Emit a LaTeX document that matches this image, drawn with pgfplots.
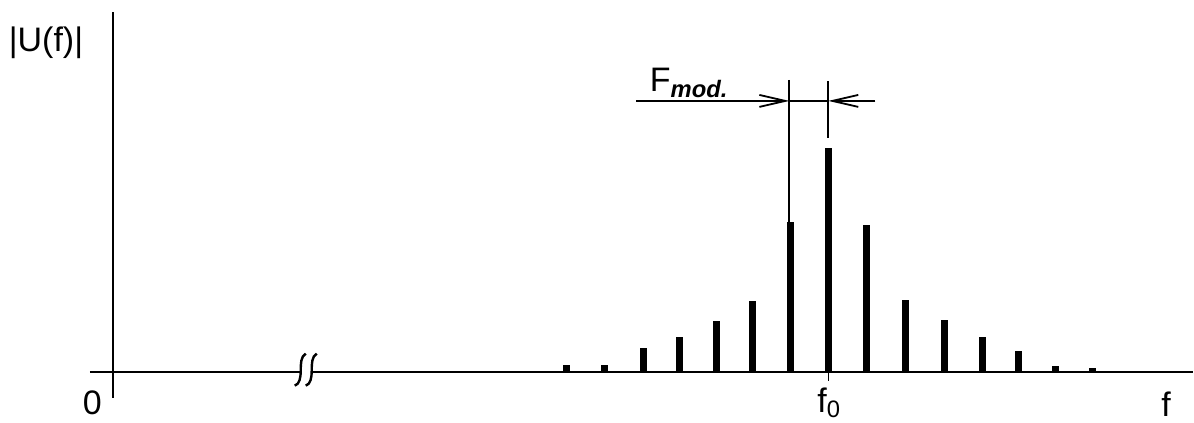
\documentclass[border=0pt]{standalone}
\usepackage{pgfplots}
\pgfplotsset{compat=1.18}
\usepackage{fontspec}
\setmainfont{Liberation Sans}
\usetikzlibrary{arrows.meta}
\begin{document}
\begin{tikzpicture}
\begin{axis}[
  x=0.5pt, y=0.5pt,
  xmin=-23, xmax=1081, ymin=-25.5, ymax=360.5,
  axis lines=middle,
  axis line style={line width=1pt, -},
  xtick=\empty, ytick=\empty,
  clip=false,
  font=\fontsize{17}{20}\selectfont,
]
\path (axis cs:-113,-50.5) rectangle (axis cs:1081,372.5);
% spectral lines
\addplot[ycomb, black, line width=3.5pt, line cap=butt] coordinates {
  (454,7) (492,7) (531,24) (567,35) (604,51) (640,71.5) (678,150)
  (716,224.5)
  (754,147.5) (793,72.5) (832,52.5) (870,35) (906,21) (943,6) (980,4)
};
% tick under f0
\draw[line width=0.8pt] (axis cs:716,0) -- (axis cs:716,-9);
% axis break
\fill[white] (axis cs:187,-5) rectangle (axis cs:199,5);
\draw[line width=1.2pt] (axis cs:193,18.5) .. controls (axis cs:188,16) and (axis cs:188,8) .. (axis cs:188,2) .. controls (axis cs:188,-5) and (axis cs:187,-12) .. (axis cs:182,-13.5);
\draw[line width=1.2pt] (axis cs:204,18.5) .. controls (axis cs:199,16) and (axis cs:199,8) .. (axis cs:199,2) .. controls (axis cs:199,-5) and (axis cs:198,-12) .. (axis cs:193,-13.5);
% F_mod annotation
\draw[line width=0.9pt] (axis cs:677,292.5) -- (axis cs:677,150);
\draw[line width=0.9pt] (axis cs:716,291) -- (axis cs:716,234.5);
\draw[line width=0.9pt, -{Straight Barb[length=13pt,width=6pt]}] (axis cs:523.7,271.5) -- (axis cs:677,271.5);
\draw[line width=0.9pt] (axis cs:677,271.5) -- (axis cs:716,271.5);
\draw[line width=0.9pt, -{Straight Barb[length=13pt,width=6pt]}] (axis cs:763,271.5) -- (axis cs:716,271.5);
\node[anchor=base west, inner sep=0pt] at (axis cs:537,280.5) {F\textsubscript{\textit{\textbf{mod.}}}};
% labels
\node[inner sep=0pt] at (axis cs:-67,329.5) {|U(f)|};
\node[inner sep=0pt] at (axis cs:-20.5,-31) {0};
\node[inner sep=0pt] at (axis cs:717,-31) {f\textsubscript{0}};
\node[inner sep=0pt] at (axis cs:1054,-32.5) {f};
\end{axis}
\end{tikzpicture}
\end{document}
